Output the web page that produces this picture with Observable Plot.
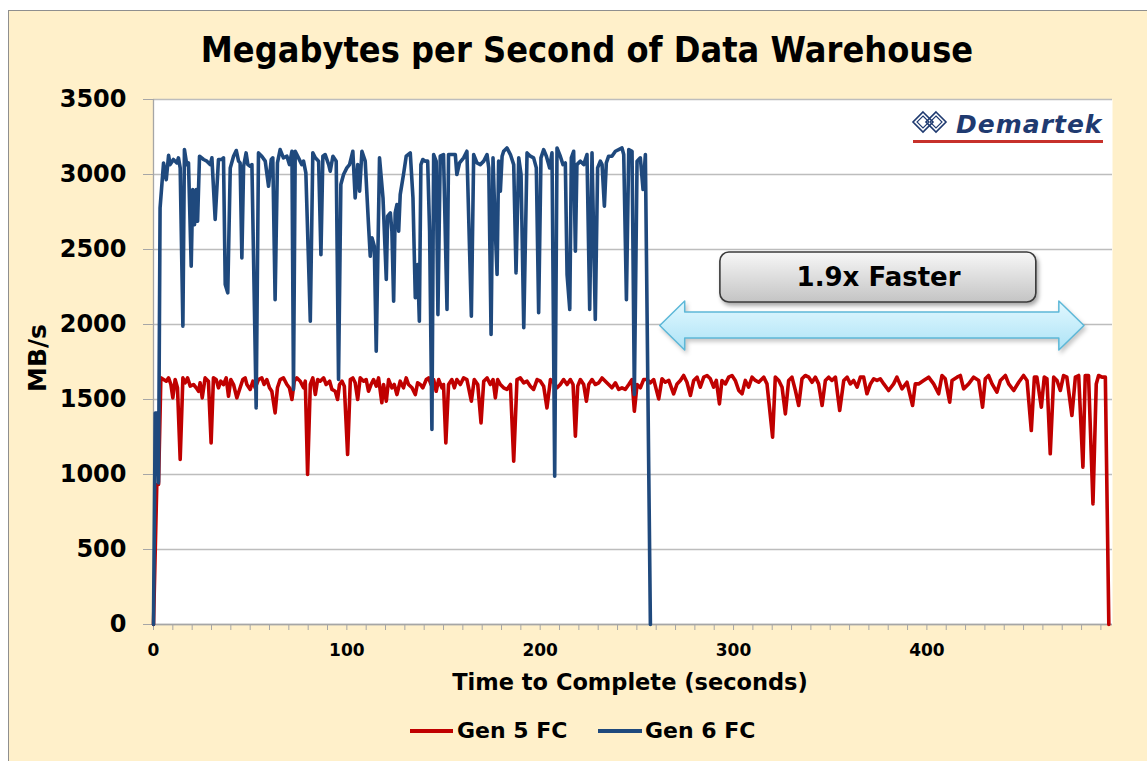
<!DOCTYPE html>
<html><head><meta charset="utf-8">
<script src="https://cdn.jsdelivr.net/npm/d3@7"></script>
<script src="https://cdn.jsdelivr.net/npm/@observablehq/plot@0.6"></script>
<style>
html,body{margin:0;padding:0;background:#fff;}
#wrap{position:relative;width:1147px;height:761px;overflow:hidden;}
#panel{position:absolute;left:8px;top:10px;width:1160px;height:780px;background:#FFF0CA;border:1.5px solid #8f8f8f;box-sizing:border-box;}
#chart{position:absolute;left:0;top:0;}
.t{position:absolute;font-family:"DejaVu Sans";font-weight:bold;color:#000;white-space:nowrap;line-height:1;}
.sw{position:absolute;height:4px;}
.dw g[aria-label="rect"]{filter:drop-shadow(2px 3px 2px rgba(0,0,0,0.35));}
.dw g[aria-label="area"]{filter:drop-shadow(2px 3px 2px rgba(0,0,0,0.22));}
</style></head><body>
<div id="wrap">
  <div id="panel"></div>
  <div id="chart"></div>
  <div class="t" id="title" style="font-size:32.2px;left:587px;top:32px;transform:translateX(-50%) scaleY(1.12);transform-origin:50% 0;">Megabytes per Second of Data Warehouse</div>
  <div class="t" id="xtitle" style="font-size:22.5px;left:630px;top:671px;transform:translateX(-50%);">Time to Complete (seconds)</div>
  <div class="t" id="ytitle" style="font-size:25px;left:37px;top:358px;transform:translate(-50%,-50%) rotate(-90deg);">MB/s</div>
  <div class="sw" style="left:410px;top:729px;width:43px;background:#C00000;"></div>
  <div class="t" style="font-size:22px;left:457px;top:720px;">Gen 5 FC</div>
  <div class="sw" style="left:598px;top:729px;width:44px;background:#1F497D;"></div>
  <div class="t" style="font-size:22px;left:645px;top:720px;">Gen 6 FC</div>
  <svg style="position:absolute;left:911px;top:110px;" width="38" height="24" viewBox="0 0 38 24">
    <g fill="none" stroke="#1F3A70" stroke-width="1.6">
      <path d="M12 2 L22 12 L12 22 L2 12 Z"/>
      <path d="M12 6 L18 12 L12 18 L6 12 Z" stroke-width="1.1"/>
      <path d="M25 2 L35 12 L25 22 L15 12 Z"/>
      <path d="M25 6 L31 12 L25 18 L19 12 Z" stroke-width="1.1"/>
    </g>
  </svg>
  <div class="t" style="font-size:25px;left:956px;top:112px;font-style:italic;color:#1F3A70;letter-spacing:1px;">Demartek</div>
  <div style="position:absolute;left:913px;top:140px;width:190px;height:3px;background:#C7312B;"></div>
</div>
<script>
// ---- data: [seconds, MB/s] ----
const gen5 = [[0,0],[1.7,933],[2.6,933],[3.8,1644],[5.2,1633],[6.6,1622],[7.8,1644],[9.0,1600],[10.0,1511],[11.2,1633],[12.4,1578],[13.8,1100],[15.2,1644],[16.4,1611],[17.6,1644],[19.0,1589],[20.7,1600],[22.1,1578],[23.3,1555],[24.1,1611],[25.2,1511],[26.7,1644],[28.4,1622],[29.8,1211],[31.0,1644],[32.4,1633],[33.6,1578],[34.8,1622],[36.2,1600],[37.6,1644],[38.8,1522],[40.0,1633],[41.4,1600],[43.1,1511],[44.8,1578],[46.2,1633],[47.4,1644],[48.3,1600],[50.0,1567],[51.4,1622],[52.6,1578],[54.3,1633],[56.0,1644],[57.2,1600],[58.6,1633],[60.0,1578],[61.2,1555],[62.9,1411],[64.1,1578],[65.5,1633],[67.2,1644],[69.0,1600],[70.3,1578],[71.6,1500],[72.8,1622],[74.1,1644],[75.9,1622],[77.6,1578],
[78.5,1622],[79.7,1000],[81.1,1600],[82.4,1644],[83.7,1533],[84.9,1633],[86.2,1622],[88.0,1644],[89.3,1600],[91.1,1622],[92.3,1567],[94.0,1555],[95.2,1500],[96.2,1600],[97.5,1622],[98.7,1589],[100.4,1133],[101.8,1633],[103.1,1644],[104.3,1611],[105.6,1500],[106.9,1644],[108.7,1622],[110.0,1633],[111.2,1555],[112.5,1600],[113.8,1633],[115.2,1589],[116.4,1644],[118.1,1478],[119.0,1600],[120.4,1489],[121.6,1633],[123.3,1578],[124.5,1600],[125.9,1533],[127.6,1622],[129.3,1578],[130.7,1644],[131.9,1600],[133.7,1578],[135.4,1533],[136.6,1611],[138.0,1600],[139.3,1578],[141.1,1633],[142.3,1644],[143.5,1600],[144.9,1633],[146.2,1555],[147.5,1633],[149.2,1578],[150.0,1600],[151.2,1211],[152.6,1600],[154.3,1633],[155.6,1578],[156.9,1633],[158.7,1600],[160.4,1644],
[162.1,1633],[164.4,1489],[165.9,1633],[167.7,1600],[169.4,1344],[170.8,1622],[172.5,1644],[174.2,1600],[175.6,1633],[176.8,1511],[178.0,1633],[179.4,1600],[181.1,1578],[182.8,1567],[184.6,1600],[186.3,1089],[188.0,1633],[189.7,1644],[191.5,1611],[193.2,1622],[194.9,1589],[196.6,1567],[198.4,1633],[200.1,1622],[201.8,1589],[203.5,1444],[205.3,1633],[207.0,1611],[208.7,1578],[210.4,1600],[212.1,1633],[213.9,1600],[215.6,1633],[217.0,1600],[218.2,1255],[219.4,1589],[220.8,1633],[222.5,1600],[223.9,1489],[225.1,1600],[226.8,1633],[228.5,1600],[230.3,1611],[232.0,1644],[233.7,1622],[235.4,1600],[237.1,1578],[238.9,1611],[240.6,1567],[242.3,1578],[244.0,1567],[245.8,1600],[247.5,1633],[248.7,1422],[250.1,1600],[251.8,1578],[253.5,1633],[255.2,1633],[257.0,1611],[258.7,1633],
[261.3,1504],[263.0,1638],[264.7,1615],[266.5,1627],[269.0,1538],[270.8,1604],[272.5,1627],[274.2,1660],[275.9,1615],[277.7,1527],[279.4,1627],[281.1,1649],[282.8,1582],[284.6,1649],[286.3,1660],[288.0,1638],[289.7,1582],[291.1,1627],[292.7,1471],[294.0,1627],[295.8,1604],[297.5,1649],[299.2,1660],[300.9,1627],[302.7,1560],[304.4,1538],[306.1,1627],[307.8,1582],[309.6,1649],[311.3,1627],[313.0,1615],[315.6,1649],[317.3,1604],[320.2,1249],[321.6,1649],[323.4,1627],[325.1,1582],[326.8,1404],[328.5,1627],[330.2,1649],[332.0,1560],[333.7,1460],[335.4,1638],[337.1,1660],[338.9,1649],[340.6,1615],[342.3,1649],[344.0,1604],[345.8,1460],[347.5,1627],[349.2,1649],[350.9,1627],[352.7,1649],[354.9,1427],[357.0,1627],[358.7,1649],[360.4,1604],[362.1,1627],[363.9,1582],[365.6,1649],[367.3,1649],[369.0,1538],[370.8,1604],[372.5,1638],[374.2,1627],[375.9,1638],[377.7,1604],[380.2,1560],
[382.8,1604],[384.5,1649],[387.1,1571],[389.7,1615],[392.6,1460],[394.0,1604],[395.7,1604],[398.3,1627],[400.9,1649],[403.5,1604],[406.1,1538],[407.8,1660],[409.5,1638],[411.8,1482],[413.0,1627],[415.6,1649],[417.3,1660],[419.0,1571],[421.6,1604],[424.2,1649],[426.8,1627],[428.8,1449],[430.2,1638],[431.9,1660],[433.7,1604],[436.2,1549],[438.0,1627],[440.6,1660],[442.3,1604],[444.9,1560],[447.5,1615],[450.0,1660],[451.8,1627],[454.0,1293],[455.6,1649],[456.9,1649],[459.2,1449],[460.7,1649],[462.1,1638],[463.8,1138],[465.6,1649],[467.3,1627],[469.0,1560],[470.7,1660],[472.4,1649],[475.0,1393],[476.8,1649],[478.5,1660],[480.7,1049],[481.9,1660],[483.6,1660],[485.9,804],[487.6,1604],[488.8,1660],[490.6,1649],[492.3,1649],[494.1,0]];

const gen6 = [[0,0],[0.9,1410],[1.7,1410],[2.6,944],[3.4,2778],[5.2,3077],[6.6,2966],[7.8,3128],[8.6,3066],[10.3,3100],[12.1,3077],[12.9,3111],[13.8,3044],[15.2,1989],[16.0,3166],[17.2,3066],[18.1,3077],[19.5,2389],[20.3,2900],[21.2,2666],[22.1,2900],[22.8,2689],[23.8,3122],[25.9,3100],[27.6,3089],[29.3,3066],[30.2,3111],[31.9,2700],[33.6,3100],[35.3,3100],[36.2,3111],[37.1,2266],[38.4,2211],[39.7,3044],[41.4,3122],[42.8,3160],[44.0,3089],[44.8,3077],[45.7,2444],[46.6,3055],[47.9,3144],[48.8,3066],[50.0,3055],[50.9,3066],[53.1,1444],[54.3,3144],[56.0,3122],[57.8,3089],[59.5,2922],[60.9,3100],[61.7,3111],[62.9,2166],[64.1,3077],[65.5,3166],[67.2,3111],[69.0,3122],[70.3,3066],[71.6,3155],[72.4,1567],[73.3,3155],[75.0,3111],[76.7,3066],[77.6,3089],[78.8,3011],
[81.1,2022],[82.4,3144],[83.7,3111],[85.4,3089],[86.6,2466],[87.6,3122],[88.8,3133],[90.6,3066],[91.4,3022],[92.8,3122],[94.5,3089],[95.7,1633],[96.9,2933],[98.3,3000],[100.0,3044],[101.4,3066],[103.1,3155],[104.3,2844],[105.6,3066],[106.6,2889],[107.8,3155],[109.5,3089],[111.2,2666],[112.1,2455],[113.0,2578],[114.2,2522],[115.2,1822],[116.9,3111],[118.7,2844],[120.4,2300],[121.1,2722],[122.5,2744],[123.3,2622],[124.2,2155],[125.0,2744],[125.9,2800],[126.8,2622],[127.6,2866],[129.3,3000],[130.7,3122],[132.8,3144],[134.2,2844],[135.4,2178],[136.6,2400],[137.5,2022],[138.3,3066],[139.3,3100],[140.6,3089],[141.8,3089],[142.8,2622],[144.0,1300],[144.9,3133],[146.2,3089],[147.1,2066],[148.3,3122],[150.0,3133],[151.8,2100],[152.6,3133],[154.3,3133],[156.1,3133],[156.9,3000],[158.3,3077],[160.4,3111],[162.1,3155],
[164.4,2055],[165.6,3133],[167.3,3077],[169.0,3066],[170.8,3089],[172.5,3133],[173.4,3044],[174.6,1933],[175.6,3111],[176.8,2622],[177.7,2333],[178.5,3089],[179.4,2889],[180.3,3122],[181.1,3155],[182.8,3177],[184.6,3133],[186.3,3066],[187.5,2344],[188.9,3111],[190.1,3000],[191.5,1978],[193.2,3144],[194.9,3122],[196.6,3111],[198.0,3044],[199.2,2078],[200.4,3111],[201.8,3166],[203.2,3122],[204.9,3044],[206.1,3144],[207.5,989],[208.7,3177],[210.4,3122],[211.8,3066],[213.0,3077],[213.9,2333],[215.3,2100],[216.1,3111],[217.3,3155],[218.2,2489],[219.0,3066],[220.8,3089],[222.5,3066],[224.2,3133],[225.6,2100],[226.8,3144],[228.5,2033],[229.7,3044],[231.1,3089],[232.0,3066],[233.2,2789],[234.2,3077],[235.4,3122],[237.1,3122],[238.9,3155],[240.6,3166],[242.3,3177],[243.2,3133],[244.6,2166],[245.8,3166],[247.5,3155],[248.7,1533],[250.1,3089],[251.8,3111],[253.2,2900],[254.4,3133],[257.0,0]];

const yTicks = [0, 500, 1000, 1500, 2000, 2500, 3000, 3500];
const xTickLabels = [0, 100, 200, 300, 400];
const xMinorTicks = [0,10,20,30,40,50,60,70,80,90,100,110,120,130,140,150,160,170,180,190,200,210,220,230,240,250,260,270,280,290,300,310,320,330,340,350,360,370,380,390,400,410,420,430,440,450,460,470,480,490];

// callout: "1.9x Faster" box and double arrow, in data units
const calloutLabel = [{text: "1.9x Faster", t: 375, v: 2313}];
const calloutBox = [{t1: 293.2, t2: 456.6, v1: 2147, v2: 2480}];
const arrowShape = [
  {t: 262.1, lo: 1990, hi: 1990},
  {t: 275.0, lo: 1827, hi: 2153},
  {t: 275.0, lo: 1907, hi: 2080},
  {t: 468.5, lo: 1907, hi: 2080},
  {t: 468.5, lo: 1827, hi: 2153},
  {t: 481.5, lo: 1990, hi: 1990}
];

const toRows = (arr) => arr.map(([t, v]) => ({t, v}));

const defs = () => {
  const d = d3.create("svg:defs");
  const g1 = d.append("linearGradient").attr("id", "boxGrad").attr("x1", 0).attr("y1", 0).attr("x2", 0).attr("y2", 1);
  g1.append("stop").attr("offset", "0%").attr("stop-color", "#f7f7f7");
  g1.append("stop").attr("offset", "100%").attr("stop-color", "#c4c4c4");
  const g2 = d.append("linearGradient").attr("id", "arrowGrad").attr("x1", 0).attr("y1", 0).attr("x2", 0).attr("y2", 1);
  g2.append("stop").attr("offset", "0%").attr("stop-color", "#e2f8ff");
  g2.append("stop").attr("offset", "100%").attr("stop-color", "#ade3f6");
  return d.node();
};

const chart = Plot.plot({
  className: "dw",
  width: 1147,
  height: 761,
  marginLeft: 153,
  marginRight: 35,
  marginTop: 99,
  marginBottom: 137,
  style: {background: "transparent", fontFamily: "DejaVu Sans", fontWeight: "bold", color: "#000"},
  x: {domain: [0, 496], axis: null},
  y: {domain: [0, 3500], axis: null},
  marks: [
    defs,
    Plot.frame({fill: "white", stroke: "none"}),
    Plot.gridY(yTicks, {stroke: "#bdbdbd", strokeOpacity: 1, strokeWidth: 1.4}),
    Plot.ruleX([0], {stroke: "#a6a6a6", strokeWidth: 1.3}),
    Plot.ruleY([0], {stroke: "#a6a6a6", strokeWidth: 1.3}),
    Plot.axisY(yTicks, {tickSize: 10, tickPadding: 17, fontSize: 24, fontWeight: "bold", stroke: "#a6a6a6", tickFormat: (d) => String(d), label: null}),
    Plot.axisX(xMinorTicks, {tickSize: 6, stroke: "#a6a6a6", tickFormat: () => "", label: null}),
    Plot.axisX(xTickLabels, {tickSize: 0, tickPadding: 19, fontSize: 17, fontWeight: "bold", tickFormat: (d) => String(d), label: null}),
    Plot.areaY(arrowShape, {x: "t", y1: "lo", y2: "hi", curve: "linear", fill: "url(#arrowGrad)", stroke: "#5db8d8", strokeWidth: 1.5}),
    Plot.rect(calloutBox, {x1: "t1", x2: "t2", y1: "v1", y2: "v2", rx: 9, fill: "url(#boxGrad)", stroke: "#3b3b3b", strokeWidth: 1.6}),
    Plot.text(calloutLabel, {x: "t", y: "v", text: "text", fontSize: 26, fontWeight: "bold", fill: "#000", textAnchor: "middle", lineAnchor: "middle"}),
    Plot.line(toRows(gen5), {x: "t", y: "v", stroke: "#C00000", strokeWidth: 3.6, strokeLinejoin: "round"}),
    Plot.line(toRows(gen6), {x: "t", y: "v", stroke: "#1F497D", strokeWidth: 3.6, strokeLinejoin: "round"})
  ]
});
document.getElementById("chart").appendChild(chart);
</script>
</body></html>
